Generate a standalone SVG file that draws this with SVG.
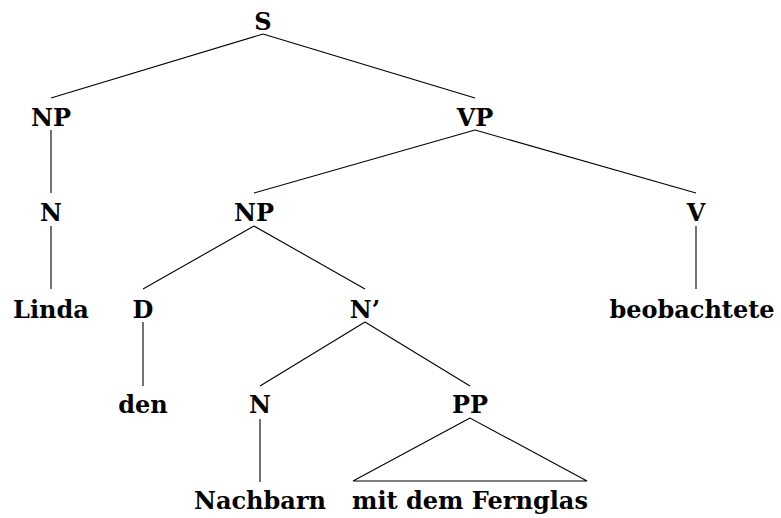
<svg xmlns="http://www.w3.org/2000/svg" width="781" height="518" viewBox="0 0 781 518">
<style>
text{font-family:"DejaVu Serif","Liberation Serif",serif;font-weight:bold;font-size:24px;fill:#000;text-anchor:middle}
.c line,.c polygon{stroke:#000;stroke-width:1.1;fill:none}
</style>
<rect width="781" height="518" fill="#fff"/>
<g class="c" id="connectors">
<line x1="263" y1="34" x2="51" y2="98"/>
<line x1="263" y1="34" x2="475" y2="98"/>
<line x1="51" y1="130" x2="51" y2="193"/>
<line x1="51" y1="226" x2="51" y2="289"/>
<line x1="475" y1="130" x2="254" y2="193"/>
<line x1="475" y1="130" x2="696" y2="193"/>
<line x1="696" y1="226" x2="696" y2="289"/>
<line x1="254" y1="226" x2="143" y2="289"/>
<line x1="254" y1="226" x2="365" y2="289"/>
<line x1="143" y1="322" x2="143" y2="386"/>
<line x1="365" y1="322" x2="260" y2="386"/>
<line x1="365" y1="322" x2="470" y2="386"/>
<line x1="260" y1="419" x2="260" y2="482"/>
<polygon points="470,418 353,481 587,481"/>
</g>
<g id="S"><text x="263" y="30">S</text></g>
<g id="NP1"><text x="51" y="126">NP</text></g>
<g id="VP"><text x="475" y="126">VP</text></g>
<g id="N1"><text x="51" y="221">N</text></g>
<g id="NP2"><text x="254" y="221">NP</text></g>
<g id="V"><text x="696" y="221">V</text></g>
<g id="Linda"><text x="51" y="318">Linda</text></g>
<g id="D"><text x="143" y="318">D</text></g>
<g id="Nbar"><text x="365" y="318">N’</text></g>
<g id="beobachtete"><text x="692" y="318">beobachtete</text></g>
<g id="den"><text x="143" y="413">den</text></g>
<g id="N2"><text x="260" y="413">N</text></g>
<g id="PP"><text x="470" y="413">PP</text></g>
<g id="Nachbarn"><text x="260" y="509">Nachbarn</text></g>
<g id="mitdemFernglas"><text x="470" y="509">mit dem Fernglas</text></g>
</svg>
